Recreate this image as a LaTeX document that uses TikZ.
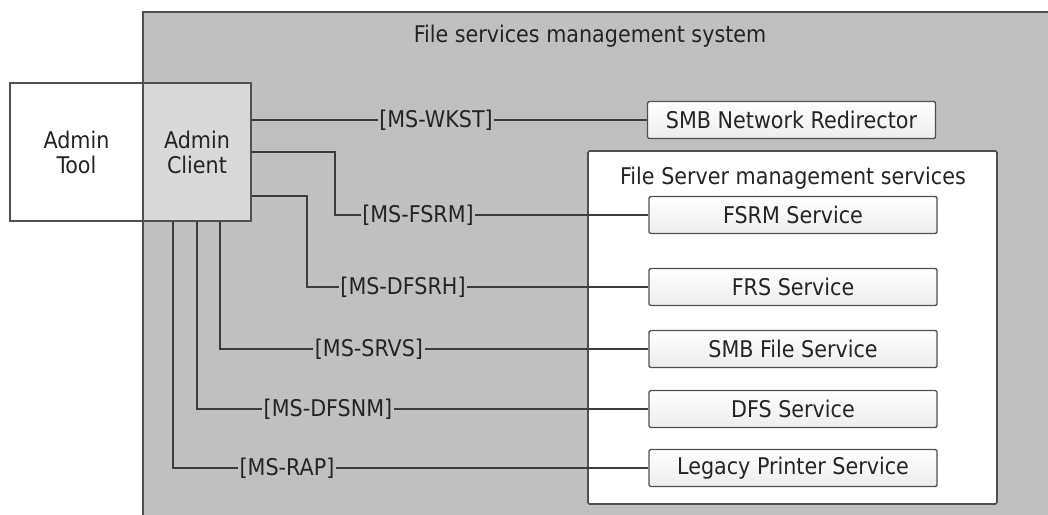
\documentclass[tikz,border=0pt]{standalone}
\usepackage{fontspec}
\setmainfont{DejaVu Sans Condensed}
\usetikzlibrary{calc}
\definecolor{sysgray}{RGB}{192,192,192}
\definecolor{clientgray}{RGB}{217,217,217}
\definecolor{edgegray}{RGB}{80,80,80}
\definecolor{wiregray}{RGB}{60,60,60}
\definecolor{inkgray}{RGB}{36,36,36}
\tikzset{
  txt/.style={font=\fontsize{23}{25}\selectfont, text=inkgray},
  hostbox/.style={txt, draw=edgegray, line width=1.6pt, align=center, minimum height=138, inner sep=0pt},
  svcbox/.style={txt, draw=edgegray, line width=1.4pt, rounded corners=1.5pt, top color=white, bottom color=gray!14, minimum width=288, minimum height=37, inner sep=0pt},
  proto/.style={txt, inner sep=1.5pt},
  wire/.style={draw=wiregray, line width=1.6pt}
}
\begin{document}
\begin{tikzpicture}[x=1pt,y=-1pt]

  \useasboundingbox (0,0) rectangle (1048,514);
  \clip (0,0) rectangle (1048,514);

  \draw[edgegray, line width=1.6pt, fill=sysgray] (143,12) rectangle (1070,540);
  \node[txt] (fsms) at (590,36) {File services management system};

  \node[hostbox, fill=white, minimum width=133] (tool) at (76.5,152) {Admin\\Tool};
  \node[hostbox, fill=clientgray, minimum width=108] (client) at (197,152) {Admin\\Client};

  \node[svcbox] (smbnr) at (791.5,120) {SMB Network Redirector};
  \draw[edgegray, line width=1.6pt, fill=white, rounded corners=1.5pt] (588,151) rectangle (997,504);
  \node[txt] (fsmsvc) at (793,178) {File Server management services};

  \foreach \n/\yy/\t in {fsrm/215/FSRM Service, frs/287/FRS Service,
                         smbfs/349/SMB File Service, dfs/409/DFS Service,
                         lps/468/Legacy Printer Service}
    \node[svcbox] (\n) at (793,\yy) {\t};

  \node[proto] (wkst) at (436,120) {[MS-WKST]};
  \node[proto] (msfsrm) at (418,215) {[MS-FSRM]};
  \node[proto] (dfsrh) at (403,287) {[MS-DFSRH]};
  \node[proto] (srvs) at (369,349) {[MS-SRVS]};
  \node[proto] (dfsnm) at (328,409) {[MS-DFSNM]};
  \node[proto] (rap) at (287,468) {[MS-RAP]};

  \coordinate (c-wkst) at (client.east |- wkst);
  \coordinate (c-fsrm) at ($(client.north east)+(0,70)$);
  \coordinate (c-dfsrh) at ($(client.north east)+(0,114)$);
  \foreach \vx/\lbl in {220/srvs, 197/dfsnm, 173/rap}
    \coordinate (c-\lbl) at (client.south -| \vx,0);

  \draw[wire] (c-wkst) -- (wkst) -- (smbnr);
  \draw[wire] (c-fsrm) -| (335,215) -- (msfsrm) -- (fsrm);
  \draw[wire] (c-dfsrh) -| (307,287) -- (dfsrh) -- (frs);
  \foreach \lbl/\tgt in {srvs/smbfs, dfsnm/dfs, rap/lps}
    \draw[wire] (c-\lbl) |- (\lbl) -- (\tgt);

\end{tikzpicture}
\end{document}
